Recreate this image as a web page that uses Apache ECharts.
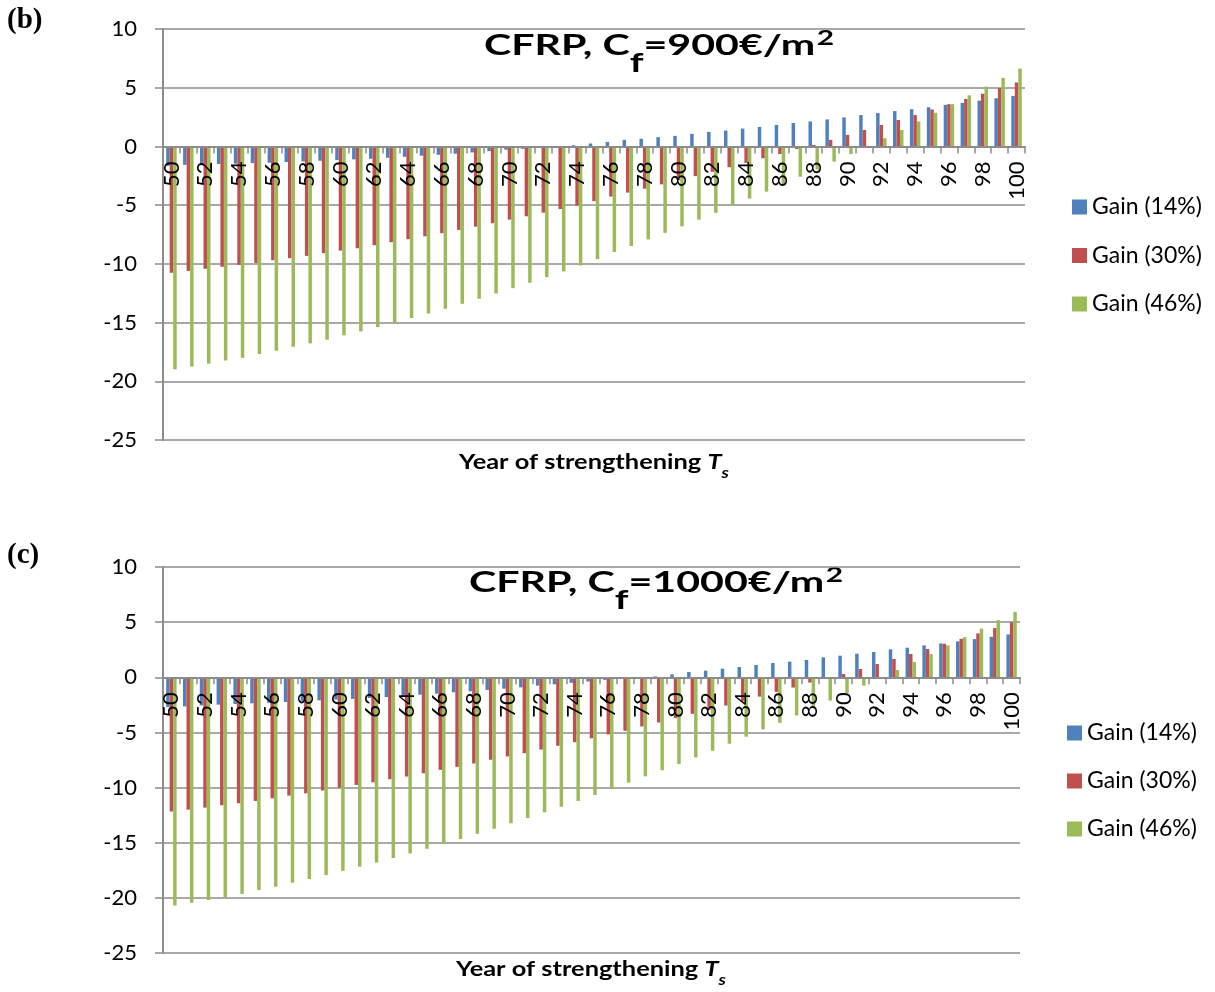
<!DOCTYPE html>
<html>
<head>
<meta charset="utf-8">
<script src="https://cdn.jsdelivr.net/npm/echarts@6/dist/echarts.min.js"></script>
<style>
html,body{margin:0;padding:0;background:#fff;}
#chart{width:1215px;height:992px;}
</style>
</head>
<body>
<div id="chart"></div>
<script>
// Categories: year of strengthening
const years = ['50','51','52','53','54','55','56','57','58','59','60','61','62','63','64','65','66','67','68','69','70','71','72','73','74','75','76','77','78','79','80','81','82','83','84','85','86','87','88','89','90','91','92','93','94','95','96','97','98','99','100'];
const yTicks = [-25, -20, -15, -10, -5, 0, 5, 10];
const seriesNames = ['Gain (14%)', 'Gain (30%)', 'Gain (46%)'];

// (b) CFRP, Cf = 900 €/m2
const gain14_900 = [-1.65,-1.57,-1.52,-1.49,-1.47,-1.42,-1.39,-1.33,-1.28,-1.22,-1.16,-1.1,-1.05,-0.96,-0.88,-0.79,-0.71,-0.62,-0.51,-0.4,-0.28,-0.2,-0.1,-0.03,0.1,0.25,0.39,0.56,0.65,0.79,0.9,1.07,1.24,1.35,1.52,1.66,1.83,1.99,2.13,2.3,2.47,2.67,2.84,3.01,3.17,3.34,3.54,3.71,3.9,4.1,4.3];
const gain30_900 = [-10.76,-10.6,-10.42,-10.25,-10.08,-9.92,-9.69,-9.52,-9.32,-9.09,-8.87,-8.67,-8.41,-8.16,-7.9,-7.65,-7.39,-7.11,-6.83,-6.54,-6.23,-5.95,-5.64,-5.33,-5.04,-4.66,-4.27,-3.93,-3.6,-3.23,-2.87,-2.53,-2.16,-1.77,-1.4,-1.01,-0.65,-0.22,0.12,0.56,0.98,1.4,1.83,2.25,2.67,3.15,3.6,4.04,4.49,4.97,5.45];
const gain46_900 = [-18.98,-18.75,-18.5,-18.24,-17.99,-17.68,-17.39,-17.05,-16.77,-16.46,-16.09,-15.75,-15.38,-15.01,-14.62,-14.22,-13.82,-13.4,-12.97,-12.52,-12.07,-11.61,-11.13,-10.65,-10.14,-9.6,-8.99,-8.48,-7.92,-7.36,-6.8,-6.24,-5.65,-5.0,-4.44,-3.85,-3.23,-2.58,-1.97,-1.29,-0.65,-0.03,0.7,1.4,2.13,2.87,3.6,4.35,5.1,5.84,6.63];

// (c) CFRP, Cf = 1000 €/m2
const gain14_1000 = [-2.7,-2.64,-2.55,-2.48,-2.42,-2.36,-2.3,-2.24,-2.15,-2.09,-2.02,-1.96,-1.88,-1.79,-1.67,-1.58,-1.48,-1.36,-1.27,-1.15,-1.03,-0.91,-0.76,-0.64,-0.5,-0.38,-0.24,-0.12,-0.02,0.08,0.27,0.48,0.6,0.78,0.93,1.11,1.3,1.42,1.57,1.81,1.96,2.14,2.29,2.53,2.68,2.89,3.07,3.25,3.46,3.67,3.89];
const gain30_1000 = [-12.18,-12.0,-11.82,-11.6,-11.42,-11.21,-10.97,-10.73,-10.52,-10.27,-10.0,-9.76,-9.52,-9.24,-9.0,-8.7,-8.39,-8.12,-7.82,-7.48,-7.18,-6.88,-6.55,-6.21,-5.88,-5.53,-5.18,-4.85,-4.46,-4.1,-3.7,-3.31,-2.95,-2.56,-2.17,-1.75,-1.33,-0.93,-0.48,-0.05,0.3,0.75,1.2,1.66,2.11,2.56,3.04,3.49,3.98,4.46,4.97];
const gain46_1000 = [-20.7,-20.45,-20.2,-19.94,-19.64,-19.3,-19.0,-18.64,-18.3,-17.94,-17.55,-17.18,-16.79,-16.39,-15.97,-15.55,-15.09,-14.67,-14.18,-13.73,-13.24,-12.76,-12.24,-11.73,-11.21,-10.67,-10.12,-9.55,-8.98,-8.43,-7.86,-7.26,-6.66,-6.02,-5.39,-4.73,-4.13,-3.46,-2.77,-2.11,-1.42,-0.75,0.03,0.66,1.39,2.11,2.89,3.64,4.4,5.18,5.93];

const colors = ['#4F81BD', '#C0504D', '#9BBB59'];
const FONT = 'Lato';
const GRAY = '#8c8c8c';

// grid geometry (pixels)
const grids = [
  { left: 163, right: 190, top: 29, bottom: 552 },
  { left: 163, right: 195, top: 567, bottom: 39 }
];
const H = 992;
function zeroOffset(g) {
  const h = H - g.top - g.bottom;
  const span = yTicks[yTicks.length - 1] - yTicks[0];
  const fromBottom = h * (0 - yTicks[0]) / span;
  return -fromBottom;
}

function xAxisCfg(gridIndex) {
  return {
    type: 'category', gridIndex: gridIndex, data: years, position: 'bottom',
    offset: zeroOffset(grids[gridIndex]),
    axisLine: { onZero: false, lineStyle: { color: GRAY, width: 2 } },
    axisTick: { show: true, interval: 0, length: 7, lineStyle: { color: GRAY, width: 1.5 } },
    axisLabel: { interval: 1, rotate: 90, margin: 15, fontSize: 22, fontFamily: FONT, color: '#000' },
    splitLine: { show: false },
    z: 5
  };
}
function yAxisCfg(gridIndex) {
  return {
    type: 'value', gridIndex: gridIndex,
    min: yTicks[0], max: yTicks[yTicks.length - 1], interval: 5,
    axisLine: { show: true, lineStyle: { color: GRAY, width: 2 } },
    axisTick: { show: true, length: 8, lineStyle: { color: GRAY, width: 1.5 } },
    axisLabel: { margin: 26, fontSize: 22, fontFamily: FONT, color: '#000' },
    splitLine: { show: true, lineStyle: { color: GRAY, width: 1.5 } }
  };
}
function barSeries(name, data, idx, color) {
  return {
    type: 'bar', name: name, data: data, xAxisIndex: idx, yAxisIndex: idx,
    itemStyle: { color: color },
    barGap: '0%', barCategoryGap: '38%'
  };
}

const titleRich = {
  a: { fontSize: 29, fontWeight: 'bold', fontFamily: FONT, color: '#000', lineHeight: 40, padding: [6, 0, 0, 0], verticalAlign: 'top' },
  sub: { fontSize: 27, fontWeight: 'bold', fontFamily: FONT, color: '#000', lineHeight: 24, padding: [25, 0, 0, 0], verticalAlign: 'top' },
  sup: { fontSize: 21, fontWeight: 'bold', fontFamily: FONT, color: '#000', lineHeight: 20, padding: [3, 0, 0, 1], verticalAlign: 'top' }
};
const nameRich = {
  a: { fontSize: 21, fontWeight: 'bold', fontFamily: FONT, color: '#000', lineHeight: 26, verticalAlign: 'top' },
  t: { fontSize: 21, fontWeight: 'bold', fontStyle: 'italic', fontFamily: FONT, color: '#000', lineHeight: 26, verticalAlign: 'top' },
  s: { fontSize: 15, fontWeight: 'bold', fontStyle: 'italic', fontFamily: FONT, color: '#000', lineHeight: 16, padding: [14, 0, 0, 0], verticalAlign: 'top' }
};

function textEl(x, y, text, rich, sx) {
  return { type: 'text', x: x, y: y, scaleX: sx, originX: 0, originY: 0,
    style: { text: text, rich: rich, align: 'center', verticalAlign: 'top' } };
}

const chart = echarts.init(document.getElementById('chart'), null, { renderer: 'canvas' });
chart.setOption({
  animation: false,
  backgroundColor: '#fff',
  color: colors,
  grid: grids.map(g => Object.assign({ containLabel: false }, g)),
  xAxis: [xAxisCfg(0), xAxisCfg(1)],
  yAxis: [yAxisCfg(0), yAxisCfg(1)],
  legend: [
    { data: seriesNames, orient: 'vertical', left: 1067, top: 190, itemWidth: 15, itemHeight: 15, itemGap: 24.5, icon: 'rect',
      textStyle: { fontSize: 23, fontFamily: FONT, color: '#000', lineHeight: 24 } },
    { data: seriesNames, orient: 'vertical', left: 1062, top: 716, itemWidth: 15, itemHeight: 15, itemGap: 24, icon: 'rect',
      textStyle: { fontSize: 23, fontFamily: FONT, color: '#000', lineHeight: 24 } }
  ],
  graphic: [
    textEl(659, 25, '{a|CFRP, C}{sub|f}{a|=900€/m}{sup|2}', titleRich, 1.42),
    textEl(656, 562, '{a|CFRP, C}{sub|f}{a|=1000€/m}{sup|2}', titleRich, 1.42),
    textEl(594, 452, '{a|Year of strengthening }{t|T}{s|s}', nameRich, 1.21),
    textEl(591, 959, '{a|Year of strengthening }{t|T}{s|s}', nameRich, 1.21),
    { type: 'text', x: 7, y: 6, style: { text: '(b)', font: 'bold 29px "Liberation Serif"', fill: '#000' } },
    { type: 'text', x: 7, y: 541, style: { text: '(c)', font: 'bold 29px "Liberation Serif"', fill: '#000' } }
  ],
  series: [
    barSeries(seriesNames[0], gain14_900, 0, colors[0]),
    barSeries(seriesNames[1], gain30_900, 0, colors[1]),
    barSeries(seriesNames[2], gain46_900, 0, colors[2]),
    barSeries(seriesNames[0], gain14_1000, 1, colors[0]),
    barSeries(seriesNames[1], gain30_1000, 1, colors[1]),
    barSeries(seriesNames[2], gain46_1000, 1, colors[2])
  ]
});
</script>
</body>
</html>
